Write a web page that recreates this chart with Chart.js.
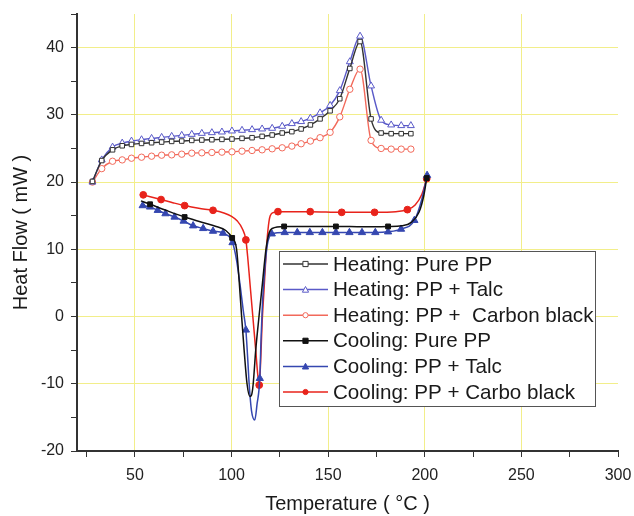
<!DOCTYPE html>
<html>
<head>
<meta charset="utf-8">
<script src="https://cdn.jsdelivr.net/npm/chart.js@4/dist/chart.umd.min.js"></script>
<style>
  body { margin: 0; background: #fff; }
  #myChart { display: block; }
</style>
</head>
<body>
<canvas id="myChart" width="634" height="516"></canvas>
<script>
// heating runs (shared temperatures)
const heatTemps = [28, 32.8, 38.4, 43.4, 48.2, 53.4, 58.6, 63.8, 69, 74.2, 79.4, 84.6, 89.8, 95, 100.2, 105.4, 110.6,
  115.8, 121, 126.2, 131.2, 136, 140.8, 145.8, 151, 156, 161.2, 166.5, 172.2, 177.4, 182.6, 187.8, 192.8];
const heatPure = [20.1, 23.2, 24.8, 25.4, 25.6, 25.75, 25.85, 25.95, 26.05, 26.1, 26.2, 26.25, 26.3, 26.35, 26.4, 26.5, 26.6,
  26.8, 27.0, 27.3, 27.5, 27.9, 28.5, 29.4, 30.6, 32.4, 36.9, 40.9, 29.4, 27.3, 27.2, 27.2, 27.2];
const heatTalc = [20.0, 23.3, 25.2, 25.8, 26.1, 26.3, 26.5, 26.65, 26.8, 26.95, 27.1, 27.25, 27.35, 27.45, 27.6, 27.7, 27.8,
  27.9, 28.0, 28.3, 28.7, 29.0, 29.5, 30.3, 31.4, 33.6, 37.9, 41.7, 34.3, 29.2, 28.5, 28.4, 28.4];
const heatCarbon = [20.0, 22.0, 23.1, 23.3, 23.55, 23.7, 23.85, 24.0, 24.05, 24.15, 24.3, 24.35, 24.4, 24.45, 24.5, 24.6, 24.7,
  24.8, 24.95, 25.1, 25.35, 25.7, 26.1, 26.6, 27.4, 29.7, 33.8, 36.8, 26.2, 25.0, 24.9, 24.9, 24.9];

// cooling runs
const coolPureT = [53.1, 57.8, 66, 75.7, 85, 92, 97, 100.3, 102.6, 104, 105.2, 106.5, 108, 109.5, 110.5, 111.2, 112.5,
  114.2, 116, 117.8, 119.5, 121, 127.2, 140, 154, 168, 181, 188, 193, 197, 199.5, 201];
const coolPure = [17.2, 16.7, 15.8, 14.8, 14.0, 13.4, 12.8, 11.7, 10, 5, 0, -5, -10, -11.9, -11.5, -10, -5,
  0, 5, 10, 12.5, 13.1, 13.4, 13.4, 13.4, 13.35, 13.4, 13.5, 14, 15.5, 18, 20.6];
const coolPureMarks = [57.8, 75.7, 100.3, 127.2, 154, 181, 201];

const coolTalcT = [54, 57.8, 61.8, 65.8, 70.5, 75.2, 80.1, 85.3, 90.4, 95.6, 100.5, 102.5, 104.5, 106, 107.4, 108.3, 109.1,
  110.3, 112, 113.2, 114.6, 115.3, 116, 117.2, 118.4, 119.6, 120.8, 127.5, 134, 140.5, 147, 154, 161, 167.5, 174.4, 181,
  187.7, 194.6, 198.5, 201.2];
const coolTalc = [16.5, 16.3, 15.8, 15.3, 14.8, 14.2, 13.5, 13.1, 12.7, 12.4, 11.0, 8.5, 4.5, 1, -2, -6, -10,
  -14, -15.4, -13, -9.2, -3, 2, 7, 10.5, 11.9, 12.3, 12.5, 12.5, 12.5, 12.5, 12.5, 12.5, 12.5, 12.5, 12.6,
  13.0, 14.3, 17.5, 21.0];
const coolTalcMarks = [54, 57.8, 61.8, 65.8, 70.5, 75.2, 80.1, 85.3, 90.4, 95.6, 100.5, 107.4, 114.6, 120.8, 127.5, 134,
  140.5, 147, 154, 161, 167.5, 174.4, 181, 187.7, 194.6, 201.2];

const coolCarbonT = [54.3, 63.5, 70, 75.7, 83, 90.4, 96, 100, 103, 105.5, 107.4, 108.3, 109.5, 111, 112.5, 113.5, 114.3,
  115, 115.8, 116.8, 117.8, 118.8, 120, 122, 124, 140.7, 157, 174, 185, 191, 195, 198.5, 201];
const coolCarbon = [18.1, 17.4, 16.9, 16.5, 16.1, 15.8, 15.4, 14.9, 14.2, 13.1, 11.4, 9, 5, 0, -5, -8.5, -10.2,
  -7, -1, 4, 9, 12.8, 15, 15.5, 15.6, 15.6, 15.5, 15.5, 15.6, 15.9, 16.6, 18.2, 20.5];
const coolCarbonMarks = [54.3, 63.5, 75.7, 90.4, 107.4, 114.3, 124, 140.7, 157, 174, 191, 201];

const seriesNames = ["Heating: Pure PP", "Heating: PP + Talc", "Heating: PP +  Carbon black",
  "Cooling: Pure PP", "Cooling: PP + Talc", "Cooling: PP + Carbo black"];
const xTicks = [25, 50, 75, 100, 125, 150, 175, 200, 225, 250, 275, 300];

function pts(xs, ys) {
  return xs.map((x, i) => ({ x: x, y: ys[i] }));
}

function heatSet(label, ys, color, style) {
  return {
    label: label,
    data: pts(heatTemps, ys),
    borderColor: color,
    borderWidth: 1.4,
    pointStyle: style,
    pointRadius: style == "triangle" ? 4 : 3.2,
    pointBackgroundColor: "#ffffff",
    pointBorderColor: color,
    pointBorderWidth: 1,
    cubicInterpolationMode: "monotone",
  };
}

function coolSet(label, xs, ys, marks, color, style) {
  return {
    label: label,
    data: pts(xs, ys),
    borderColor: color,
    borderWidth: 1.5,
    pointStyle: style,
    pointRadius: (c) => (marks.includes(xs[c.dataIndex]) ? (style == "triangle" ? 4.2 : 3.4) : 0),
    pointBackgroundColor: color,
    pointBorderColor: color,
    pointBorderWidth: 1,
    cubicInterpolationMode: "monotone",
  };
}

// legend drawn inside the plot, like the original
const boxLegend = {
  id: "boxLegend",
  afterDatasetsDraw(chart) {
    const ctx = chart.ctx;
    const bx = 279, by = 251, bw = 316, bh = 155;
    ctx.save();
    ctx.fillStyle = "#ffffff";
    ctx.fillRect(bx, by, bw, bh);
    ctx.strokeStyle = "#555";
    ctx.lineWidth = 1;
    ctx.strokeRect(bx + 0.5, by + 0.5, bw, bh);
    chart.data.datasets.forEach((ds, i) => {
      const y = 264 + i * 25.6;
      ctx.strokeStyle = ds.borderColor;
      ctx.lineWidth = 1.5;
      ctx.beginPath();
      ctx.moveTo(283, y);
      ctx.lineTo(328, y);
      ctx.stroke();
      ctx.fillStyle = ds.pointBackgroundColor;
      ctx.strokeStyle = ds.pointBorderColor;
      ctx.lineWidth = 1;
      const mx = 305.5, r = 2.6;
      ctx.beginPath();
      if (ds.pointStyle == "rect") {
        ctx.rect(mx - r, y - r, 2 * r, 2 * r);
      } else if (ds.pointStyle == "triangle") {
        ctx.moveTo(mx, y - r - 0.5);
        ctx.lineTo(mx + r + 0.5, y + r);
        ctx.lineTo(mx - r - 0.5, y + r);
        ctx.closePath();
      } else {
        ctx.arc(mx, y, r, 0, Math.PI * 2);
      }
      ctx.fill();
      ctx.stroke();
      ctx.fillStyle = "#1a1a1a";
      ctx.font = "20.6px 'Liberation Sans', Arial, sans-serif";
      ctx.textBaseline = "middle";
      ctx.fillText(ds.label, 333, y + 1);
    });
    ctx.restore();
  },
};

const gridYellow = "#f2ee8a";
const font16 = { family: "'Liberation Sans', Arial, sans-serif", size: 16 };
const font20 = { family: "'Liberation Sans', Arial, sans-serif", size: 20 };

var ctx = document.getElementById("myChart");
var dscChart = new Chart(ctx, {
  type: "line",
  data: {
    datasets: [
      heatSet(seriesNames[0], heatPure, "#333333", "rect"),
      heatSet(seriesNames[1], heatTalc, "#5a5ac8", "triangle"),
      heatSet(seriesNames[2], heatCarbon, "#f2695a", "circle"),
      coolSet(seriesNames[3], coolPureT, coolPure, coolPureMarks, "#111111", "rect"),
      coolSet(seriesNames[4], coolTalcT, coolTalc, coolTalcMarks, "#3547b0", "triangle"),
      coolSet(seriesNames[5], coolCarbonT, coolCarbon, coolCarbonMarks, "#e8231b", "circle"),
    ],
  },
  options: {
    responsive: false,
    animation: false,
    layout: { padding: { left: 9, top: 14, right: 16, bottom: 0 } },
    plugins: { legend: { display: false }, tooltip: { enabled: false } },
    scales: {
      x: {
        type: "linear",
        min: 20,
        max: 300,
        afterBuildTicks: (scale) => {
          scale.ticks = xTicks.map((v) => ({ value: v }));
        },
        afterFit: (scale) => {
          scale.height = 65;
          scale.paddingLeft = 0;
          scale.paddingRight = 0;
        },
        ticks: {
          color: "#222",
          font: font16,
          padding: 9,
          maxRotation: 0,
          autoSkip: false,
          callback: (v) => (v % 50 === 0 ? v : ""),
        },
        grid: {
          color: (c) => (c.tick && c.tick.value % 50 === 0 && c.tick.value < 300 ? gridYellow : "rgba(0,0,0,0)"),
          lineWidth: 1,
          tickColor: "#333",
          tickLength: 6,
        },
        border: { display: true, color: "#333", width: 2 },
        title: { display: true, text: "Temperature ( °C )", color: "#1a1a1a", font: font20, padding: 0 },
      },
      y: {
        min: -20,
        max: 45,
        afterFit: (scale) => {
          scale.width = 68;
          scale.paddingTop = 0;
          scale.paddingBottom = 0;
        },
        ticks: {
          stepSize: 5,
          color: "#222",
          font: font16,
          padding: 7,
          callback: (v) => (v % 10 === 0 ? v : ""),
        },
        grid: {
          color: (c) => (c.tick && c.tick.value % 10 === 0 && c.tick.value > -20 ? gridYellow : "rgba(0,0,0,0)"),
          lineWidth: 1,
          tickColor: "#333",
          tickLength: 6,
        },
        border: { display: true, color: "#333", width: 2 },
        title: { display: true, text: "Heat Flow ( mW )", color: "#1a1a1a", font: font20, padding: 0 },
      },
    },
  },
  plugins: [boxLegend],
});
</script>
</body>
</html>
